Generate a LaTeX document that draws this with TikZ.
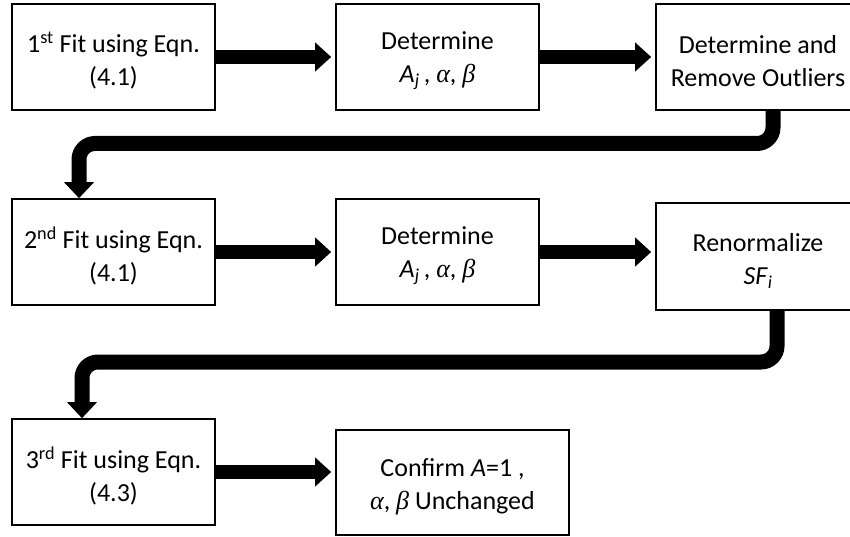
\documentclass[tikz,border=0pt]{standalone}
\usepackage{fontspec}
\setmainfont{Carlito}
\newfontfamily\grk{Liberation Serif}
\newcommand{\galpha}{\textit{\grk α}}
\newcommand{\gbeta}{\textit{\grk β}}
\usetikzlibrary{arrows.meta}
\begin{document}
\begin{tikzpicture}[x=1pt,y=-1pt,
  box/.style={draw, line width=1.6pt, inner sep=0pt, minimum width=203pt, minimum height=106pt},
  txt/.style={align=center, inner sep=0pt, font=\fontsize{26}{33}\selectfont},
  flow/.style={line width=14pt, -{Triangle[length=16pt,width=28pt]}, shorten >=4pt},
  bendflow/.style={line width=15pt, -{Triangle[length=16pt,width=29pt]}, rounded corners=16pt}]
\clip (0,0) rectangle (850,537);
\fill[white] (0,0) rectangle (850,537);
% row 1
\node[box] (b1) at (113.5,57) {};
\node[box] (b2) at (437.5,57) {};
\node[box, minimum width=204pt] (b3) at (758,57) {};
% row 2
\node[box] (b4) at (113.5,252) {};
\node[box] (b5) at (437.5,252) {};
\node[box, minimum width=204pt, minimum height=107pt] (b6) at (758,256.5) {};
% row 3
\node[box] (b7) at (113.5,472) {};
\node[box, minimum width=233pt, minimum height=105pt] (b8) at (452.5,482.5) {};
% texts
\node[txt, yshift=-4pt] (t1) at (b1) {1\textsuperscript{st} Fit using Eqn.\\(4.1)};
\node[txt, yshift=-4pt] (t2) at (b2) {Determine\\\textit{A}\textsubscript{\textit{j}}\,, \galpha, \gbeta};
\node[txt, yshift=-4pt] (t3) at (b3) {Determine and\\Remove Outliers};
\node[txt, yshift=-4pt] (t4) at (b4) {2\textsuperscript{nd} Fit using Eqn.\\(4.1)};
\node[txt, yshift=-4pt] (t5) at (b5) {Determine\\\textit{A}\textsubscript{\textit{j}}\,, \galpha, \gbeta};
\node[txt, yshift=-4pt] (t6) at (b6) {Renormalize\\\textit{SF}\textsubscript{\textit{i}}};
\node[txt, yshift=-4pt] (t7) at (b7) {3\textsuperscript{rd} Fit using Eqn.\\(4.3)};
\node[txt, yshift=-4pt] (t8) at (b8) {Confirm \textit{A}=1 ,\\\galpha, \gbeta\ Unchanged};
% bend coordinates
\coordinate (e1a) at (773,143.5);
\coordinate (e1b) at (79,143.5);
\coordinate (e2a) at (777,362);
\coordinate (e2b) at (82,362);
% connectors
\draw[flow] (b1.east) -- (b2.west);
\draw[flow] (b2.east) -- (b3.west);
\draw[flow] (b4.east) -- (b5.west);
\draw[flow] (b5.east) -- (b5.east -| b6.west);
\draw[flow] (b7.east) -- (b7.east -| b8.west);
\draw[bendflow] (b3.south -| e1a) -- (e1a) -- (e1b) -- (b4.north -| e1b);
\draw[bendflow] (b6.south -| e2a) -- (e2a) -- (e2b) -- (b7.north -| e2b);
\end{tikzpicture}
\end{document}
